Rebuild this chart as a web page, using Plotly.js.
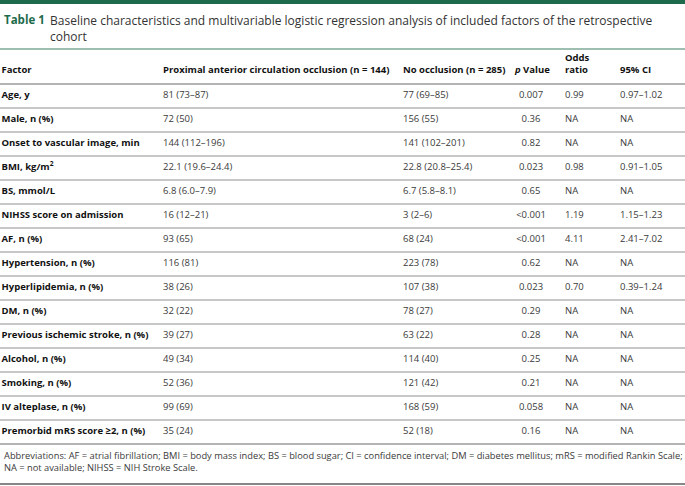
<!DOCTYPE html>
<html>
<head>
<meta charset="utf-8">
<script src="https://cdn.plot.ly/plotly-3.0.1.min.js"></script>
<style>
html,body{margin:0;padding:0;background:#fff;}
#chart{width:685px;height:486px;}
</style>
</head>
<body>
<div id="chart"></div>
<script>
// ---- data ----
const factors = [
  "Age, y",
  "Male, n (%)",
  "Onset to vascular image, min",
  "BMI, kg/m<sup>2</sup>",
  "BS, mmol/L",
  "NIHSS score on admission",
  "AF, n (%)",
  "Hypertension, n (%)",
  "Hyperlipidemia, n (%)",
  "DM, n (%)",
  "Previous ischemic stroke, n (%)",
  "Alcohol, n (%)",
  "Smoking, n (%)",
  "IV alteplase, n (%)",
  "Premorbid mRS score ≥2, n (%)"
];
const proximal = [
  "81 (73–87)", "72 (50)", "144 (112–196)", "22.1 (19.6–24.4)", "6.8 (6.0–7.9)",
  "16 (12–21)", "93 (65)", "116 (81)", "38 (26)", "32 (22)",
  "39 (27)", "49 (34)", "52 (36)", "99 (69)", "35 (24)"
];
const noOcclusion = [
  "77 (69–85)", "156 (55)", "141 (102–201)", "22.8 (20.8–25.4)", "6.7 (5.8–8.1)",
  "3 (2–6)", "68 (24)", "223 (78)", "107 (38)", "78 (27)",
  "63 (22)", "114 (40)", "121 (42)", "168 (59)", "52 (18)"
];
const pValue = [
  "0.007", "0.36", "0.82", "0.023", "0.65",
  "<0.001", "<0.001", "0.62", "0.023", "0.29",
  "0.28", "0.25", "0.21", "0.058", "0.16"
];
const oddsRatio = [
  "0.99", "NA", "NA", "0.98", "NA",
  "1.19", "4.11", "NA", "0.70", "NA",
  "NA", "NA", "NA", "NA", "NA"
];
const ci95 = [
  "0.97–1.02", "NA", "NA", "0.91–1.05", "NA",
  "1.15–1.23", "2.41–7.02", "NA", "0.39–1.24", "NA",
  "NA", "NA", "NA", "NA", "NA"
];
const headers = [
  "Factor",
  "Proximal anterior circulation occlusion (n = 144)",
  "No occlusion (n = 285)",
  "<i>p</i> Value",
  "Odds<br>ratio",
  "95% CI"
];
const titleLabel = "Table 1";
const titleText = "Baseline characteristics and multivariable logistic regression analysis of included factors of the retrospective<br>cohort";
const footnote = "Abbreviations: AF = atrial fibrillation; BMI = body mass index; BS = blood sugar; CI = confidence interval; DM = diabetes mellitus; mRS = modified Rankin Scale;<br>NA = not available; NIHSS = NIH Stroke Scale.";

// ---- layout constants ----
const FONT = "Open Sans, Noto Sans, sans-serif";
const BODY = 9.5;
const TXT = "#3a3a3a";
const GREEN = "#1d6b4c";
const W = 685, H = 486;
const colX = {factor: 1.5, prox: 163, noocc: 403, p: 531, pHead: 515, odds: 565, ci: 620};
const rowIdx = factors.map((_, i) => i);
const n = factors.length;
const rowH = 24, row0 = 96;   // pixel height of a row, pixel centre of first row

function col(x, texts, opts) {
  return Object.assign({
    type: "scatter", mode: "text",
    x: texts.map(() => x), y: rowIdx, text: texts,
    textposition: "middle right",
    textfont: {family: FONT, size: BODY, color: TXT},
    hoverinfo: "skip", showlegend: false, cliponaxis: false
  }, opts || {});
}

const traces = [
  col(colX.factor, factors, {textfont: {family: FONT, size: BODY, color: "#111", weight: 700}}),
  col(colX.prox, proximal),
  col(colX.noocc, noOcclusion),
  col(colX.p, pValue, {textposition: "middle center"}),
  col(colX.odds, oddsRatio),
  col(colX.ci, ci95),
  {
    type: "scatter", mode: "text",
    x: [colX.factor, colX.prox, colX.noocc, colX.pHead, colX.odds, colX.ci],
    y: [-1.05, -1.05, -1.05, -1.05, -1.32, -1.05],
    text: headers,
    textposition: "middle right",
    textfont: {family: FONT, size: BODY, color: "#111", weight: 700},
    hoverinfo: "skip", showlegend: false, cliponaxis: false
  }
];

// row separators: between rows and after the header / last row
const shapes = [];
for (let i = -1; i < n; i++) {
  const edge = (i === -1 || i === n - 1);
  shapes.push({
    type: "line", xref: "paper", yref: "y", x0: 0, x1: 1, y0: i + 0.5, y1: i + 0.5,
    line: {color: edge ? "#b4b4b4" : "#8f8f8f", width: edge ? 2 : 1}
  });
}
const py = p => 1 - p / H;  // pixel row -> paper fraction (layout only)
// top green bar, rule under title, bottom rule
shapes.push({type: "rect", xref: "paper", yref: "paper", x0: 0, x1: 1, y0: 1, y1: py(4),
  fillcolor: GREEN, line: {width: 0}});
shapes.push({type: "line", xref: "paper", yref: "paper", x0: 0, x1: 1, y0: py(49), y1: py(49),
  line: {color: "#7fa898", width: 1.5}});
shapes.push({type: "line", xref: "paper", yref: "paper", x0: 0, x1: 1, y0: py(484), y1: py(484),
  line: {color: "#111", width: 1}});

const annotations = [
  {xref: "paper", yref: "paper", x: 1.5 / W, y: py(10), xanchor: "left", yanchor: "top",
   text: "<b>" + titleLabel + "</b>", showarrow: false, align: "left",
   font: {family: FONT, size: 11.5, color: GREEN}},
  {xref: "paper", yref: "paper", x: 48 / W, y: py(10), xanchor: "left", yanchor: "top",
   text: titleText, showarrow: false, align: "left",
   font: {family: FONT, size: 12, color: "#333"}},
  {xref: "paper", yref: "paper", x: 1.5 / W, y: py(461), xanchor: "left", yanchor: "middle",
   text: footnote, showarrow: false, align: "left",
   font: {family: FONT, size: 9.3, color: TXT}}
];

const layout = {
  width: W, height: H,
  margin: {l: 0, r: 0, t: 0, b: 0},
  paper_bgcolor: "#fff", plot_bgcolor: "#fff",
  xaxis: {range: [0, W], visible: false, fixedrange: true},
  yaxis: {range: [(H - row0) / rowH, -row0 / rowH], visible: false, fixedrange: true},
  shapes: shapes,
  annotations: annotations,
  showlegend: false
};

Plotly.newPlot("chart", traces, layout, {displayModeBar: false, staticPlot: true});
</script>
</body>
</html>
